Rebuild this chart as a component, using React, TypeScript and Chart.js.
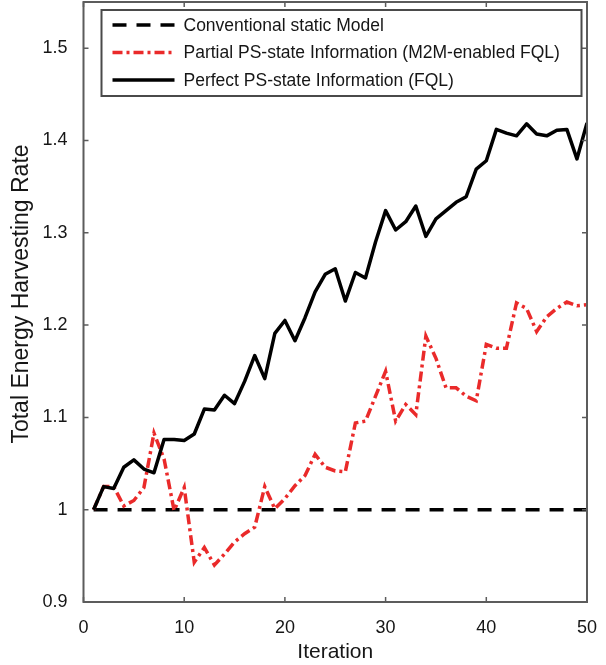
import React, { useEffect, useRef } from 'react';
import { Chart, registerables } from 'chart.js';

Chart.register(...registerables);

// Iteration index of each learning step
const ITERATIONS = [
  1, 2, 3, 4, 5, 6, 7, 8, 9, 10,
  11, 12, 13, 14, 15, 16, 17, 18, 19, 20,
  21, 22, 23, 24, 25, 26, 27, 28, 29, 30,
  31, 32, 33, 34, 35, 36, 37, 38, 39, 40,
  41, 42, 43, 44, 45, 46, 47, 48, 49, 50,
];

// Perfect PS-state information (FQL)
const PERFECT_FQL = [
  1.000, 1.025, 1.023, 1.046, 1.054, 1.044, 1.040, 1.076, 1.076, 1.075,
  1.082, 1.109, 1.108, 1.124, 1.115, 1.139, 1.167, 1.142, 1.191, 1.205,
  1.183, 1.208, 1.236, 1.255, 1.261, 1.226, 1.257, 1.251, 1.290, 1.324,
  1.303, 1.312, 1.329, 1.296, 1.315, 1.324, 1.333, 1.339, 1.369, 1.378,
  1.412, 1.408, 1.405, 1.418, 1.407, 1.405, 1.411, 1.412, 1.380, 1.419,
];

// Partial PS-state information (M2M-enabled FQL)
const PARTIAL_FQL = [
  1.000, 1.025, 1.025, 1.004, 1.010, 1.024, 1.083, 1.055, 0.999, 1.024,
  0.943, 0.959, 0.940, 0.952, 0.965, 0.974, 0.981, 1.025, 1.001, 1.012,
  1.026, 1.037, 1.060, 1.046, 1.042, 1.041, 1.094, 1.096, 1.123, 1.150,
  1.096, 1.114, 1.103, 1.188, 1.164, 1.132, 1.132, 1.123, 1.118, 1.179,
  1.175, 1.175, 1.224, 1.218, 1.193, 1.209, 1.218, 1.225, 1.221, 1.222,
];

// Conventional static model: constant reference rate
const CONVENTIONAL_X = [1, 50];
const CONVENTIONAL_Y = [1, 1];

const X_TICKS = [0, 10, 20, 30, 40, 50];
const Y_TICKS = [0.9, 1, 1.1, 1.2, 1.3, 1.4, 1.5];
const Y_TICK_LABELS = ['0.9', '1', '1.1', '1.2', '1.3', '1.4', '1.5'];

const SERIES_LABELS = [
  'Conventional static Model',
  'Partial PS-state Information (M2M-enabled FQL)',
  'Perfect PS-state Information (FQL)',
];
const X_TITLE = 'Iteration';
const Y_TITLE = 'Total Energy Harvesting Rate';

const FONT = '"Liberation Sans", Arial, Helvetica, sans-serif';
const TEXT_COLOR = '#161616';
const FRAME_COLOR = '#5c5c5c';
const RED = '#ea2a2a';

const toPoints = (xs: number[], ys: number[]) => xs.map((x, i) => ({ x, y: ys[i] }));

// Boxed axes with inward ticks, axis titles and an in-plot legend
const framePlugin = {
  id: 'boxedAxes',
  afterDraw(chart: any) {
    const { ctx, chartArea: a, scales } = chart;
    const xs = scales.x;
    const ys = scales.y;
    ctx.save();

    // axes box
    ctx.strokeStyle = FRAME_COLOR;
    ctx.lineWidth = 2;
    ctx.strokeRect(a.left, a.top, a.right - a.left, a.bottom - a.top);

    // inward tick marks on all four sides
    const tl = 5;
    ctx.lineWidth = 1.5;
    ctx.beginPath();
    X_TICKS.forEach((v) => {
      const px = xs.getPixelForValue(v);
      ctx.moveTo(px, a.bottom);
      ctx.lineTo(px, a.bottom - tl);
      ctx.moveTo(px, a.top);
      ctx.lineTo(px, a.top + tl);
    });
    Y_TICKS.forEach((v) => {
      const py = ys.getPixelForValue(v);
      ctx.moveTo(a.left, py);
      ctx.lineTo(a.left + tl, py);
      ctx.moveTo(a.right, py);
      ctx.lineTo(a.right - tl, py);
    });
    ctx.stroke();

    // axis titles
    ctx.fillStyle = TEXT_COLOR;
    ctx.font = `21px ${FONT}`;
    ctx.textAlign = 'center';
    ctx.textBaseline = 'alphabetic';
    ctx.fillText(X_TITLE, (a.left + a.right) / 2, 658);

    ctx.save();
    ctx.translate(28, 294);
    ctx.rotate(-Math.PI / 2);
    ctx.font = `23px ${FONT}`;
    ctx.fillText(Y_TITLE, 0, 0);
    ctx.restore();

    // legend
    const lx = a.left + 18;
    const ly = a.top + 8;
    const lw = 480;
    const lh = 86;
    ctx.fillStyle = '#ffffff';
    ctx.fillRect(lx, ly, lw, lh);
    ctx.strokeStyle = '#4a4a4a';
    ctx.lineWidth = 2;
    ctx.strokeRect(lx, ly, lw, lh);

    ctx.font = `17.5px ${FONT}`;
    ctx.textAlign = 'left';
    ctx.textBaseline = 'middle';
    chart.data.datasets.forEach((ds: any, i: number) => {
      const cy = ly + 15 + i * 27.5;
      ctx.save();
      ctx.strokeStyle = ds.borderColor;
      ctx.lineWidth = ds.borderWidth;
      ctx.setLineDash(ds.borderDash || []);
      ctx.beginPath();
      ctx.moveTo(lx + 11, cy);
      ctx.lineTo(lx + 73, cy);
      ctx.stroke();
      ctx.restore();
      ctx.fillStyle = TEXT_COLOR;
      ctx.fillText(ds.label, lx + 82, cy + 1);
    });

    ctx.restore();
  },
};

export default function App() {
  const canvasRef = useRef<HTMLCanvasElement | null>(null);

  useEffect(() => {
    document.body.style.margin = '0';
    const canvas = canvasRef.current;
    if (!canvas) return;

    const chart = new Chart(canvas, {
      type: 'line',
      data: {
        datasets: [
          {
            label: SERIES_LABELS[0],
            data: toPoints(CONVENTIONAL_X, CONVENTIONAL_Y),
            borderColor: '#000000',
            borderWidth: 3.5,
            borderDash: [14, 10],
            order: 2,
          },
          {
            label: SERIES_LABELS[1],
            data: toPoints(ITERATIONS, PARTIAL_FQL),
            borderColor: RED,
            borderWidth: 3.5,
            borderDash: [10, 4, 3, 4],
            order: 1,
          },
          {
            label: SERIES_LABELS[2],
            data: toPoints(ITERATIONS, PERFECT_FQL),
            borderColor: '#000000',
            borderWidth: 3.5,
            borderJoinStyle: 'round',
            order: 0,
          },
        ] as any,
      },
      options: {
        animation: false,
        responsive: true,
        maintainAspectRatio: false,
        layout: { padding: { left: 0, right: 19, top: 2, bottom: 0 } },
        elements: {
          point: { radius: 0, hoverRadius: 0 },
          line: { tension: 0, fill: false },
        },
        plugins: {
          legend: { display: false },
          tooltip: { enabled: false },
        },
        events: [],
        scales: {
          x: {
            type: 'linear',
            min: 0,
            max: 50,
            grid: { display: false },
            border: { display: false },
            afterBuildTicks: (s: any) => {
              s.ticks = X_TICKS.map((value) => ({ value }));
            },
            afterFit: (s: any) => {
              s.height = 63;
              s.paddingLeft = 0;
              s.paddingRight = 0;
            },
            ticks: {
              padding: 7,
              maxRotation: 0,
              autoSkip: false,
              color: TEXT_COLOR,
              font: { family: FONT, size: 18 },
              callback: (v: any) => String(v),
            },
          },
          y: {
            type: 'linear',
            min: 0.9,
            max: 1.55,
            grid: { display: false },
            border: { display: false },
            afterBuildTicks: (s: any) => {
              s.ticks = Y_TICKS.map((value) => ({ value }));
            },
            afterFit: (s: any) => {
              s.width = 83.5;
              s.paddingTop = 0;
              s.paddingBottom = 0;
            },
            ticks: {
              padding: 8,
              autoSkip: false,
              color: TEXT_COLOR,
              font: { family: FONT, size: 18 },
              callback: (_v: any, i: number) => Y_TICK_LABELS[i],
            },
          },
        },
      },
      plugins: [framePlugin],
    });

    return () => chart.destroy();
  }, []);

  return (
    <div style={{ position: 'relative', width: 606, height: 665 }}>
      <canvas ref={canvasRef} />
    </div>
  );
}
